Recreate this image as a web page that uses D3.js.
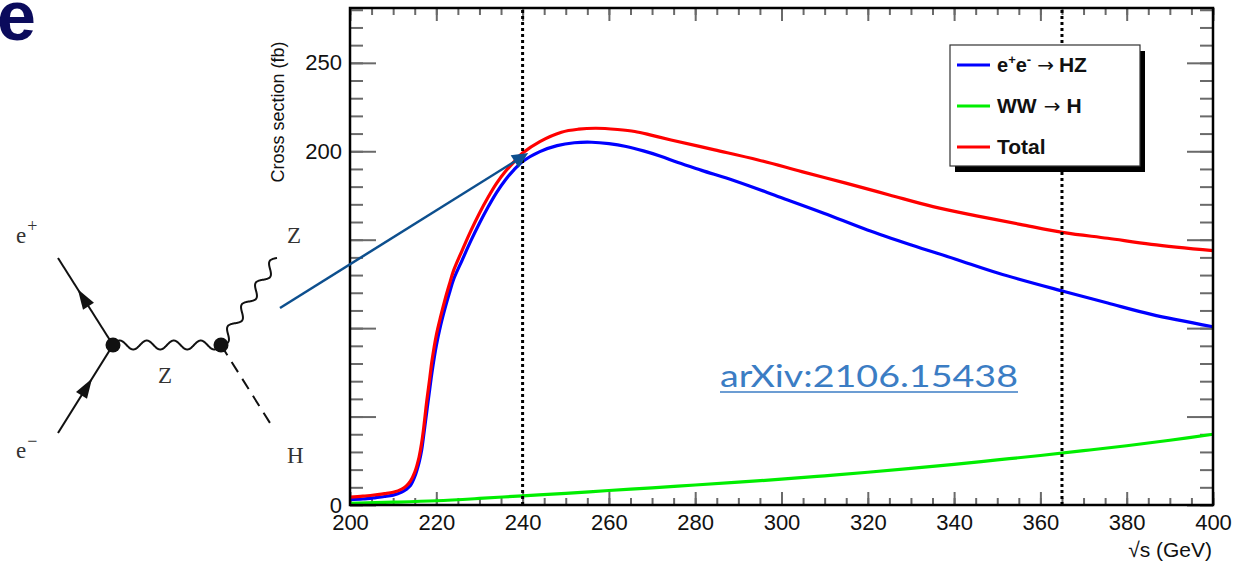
<!DOCTYPE html>
<html>
<head>
<meta charset="utf-8">
<script src="https://cdn.jsdelivr.net/npm/d3@7"></script>
<style>
  body { margin: 0; background: #fff; }
  text { font-family: "Liberation Sans", Arial, Helvetica, sans-serif; }
</style>
</head>
<body>
<div id="chart"></div>
<script>
// values (sqrt(s) in GeV, cross section in fb)
var hzEnergy = [200,203,206,208,210,212,213,214,215,216,216.6,217,217.8,218.5,219,220,221,222,223,224,226,228,230,232,234,236,238,240,244,248,252,256,260,264,268,272,276,281.5,289.6,299.7,309.8,319.9,330.1,340.2,350.3,365.5,375.6,385.7,400];
var hzXsec = [3.0,3.4,4.2,4.8,5.6,7.3,8.8,11,16,24,31,38,53,66,75,90,101.5,111,119.5,127.5,138.5,149.3,159.3,168.5,176.8,183.8,189.5,194.2,199.8,203.2,204.8,205.1,204.3,202.7,200.2,197.2,193.6,189.2,182.9,174,165,155.5,147,139.1,131,120.7,114.2,107.8,100.8];

var wwEnergy = [200,210,220,230,240,250,260,270,280,290,300,310,320,330,340,350,360,370,380,390,400];
var wwXsec = [1.0,1.6,2.4,3.7,5.2,6.6,8.2,9.7,11.3,12.9,14.6,16.5,18.5,20.7,23,25.5,28,30.7,33.5,36.6,40];

var totalEnergy = [200,203,206,208,210,212,213,214,215,216,216.6,217,217.8,218.5,219,220,221,222,223,224,226,228,230,232,234,236,238,240,244,249,253,257,262,266,270,274.4,284.5,294.6,304.7,314.9,325,335.1,345.2,355.3,365.5,375.6,385.7,400];
var totalXsec = [4.5,5.0,5.8,6.4,7.2,9,10.7,13.5,18.5,27,35,42,59,72,81.5,96,106.5,116,124.5,132.5,144,155,165,174,182,188.5,194,199,205.5,210.8,212.5,213,212.3,211.2,209,206.4,200.8,195.1,188.5,182,175.3,168.7,163.5,158.7,154,150.8,147.4,143.8];

var xMajorTicks = [200,220,240,260,280,300,320,340,360,380,400];
var yMajorTicks = [0,50,100,150,200,250];
var yLabeledTicks = [0,200,250];
var markerEnergies = [240, 365];
var seriesNames = ["HZ", "WW", "Total"];
var seriesColors = ["#0000ff", "#00ee00", "#ff0000"];

var W = 1253, H = 570;
var margin = {top: 8, right: 40, bottom: 65, left: 350},
    width = W - margin.left - margin.right,
    height = H - margin.top - margin.bottom;

var root = d3.select('#chart').append('svg')
  .attr('width', W).attr('height', H);

var svg = root.append('g')
  .attr('transform', 'translate(' + margin.left + ',' + margin.top + ')');

var x = d3.scaleLinear().domain([200, 400]).range([0, width]);
var y = d3.scaleLinear().domain([0, 281]).range([height, 0]);

function tickStyle(g) {
  g.select('.domain').remove();
  g.selectAll('line').attr('stroke', '#6a6a6a').attr('stroke-width', 2);
  g.selectAll('text').style('font-size', '22px').attr('fill', '#111');
}

var xMinor = d3.range(200, 400.1, 5);
var yMinor = d3.range(0, 281, 10);

// bottom axis
svg.append('g').attr('transform', 'translate(0,' + height + ')')
  .call(d3.axisBottom(x).tickValues(xMinor).tickSize(-7).tickFormat(''))
  .call(tickStyle);
svg.append('g').attr('transform', 'translate(0,' + height + ')')
  .call(d3.axisBottom(x).tickValues(xMajorTicks).tickSize(-13).tickPadding(9).tickFormat(d3.format('d')))
  .call(tickStyle);
// top axis
svg.append('g')
  .call(d3.axisTop(x).tickValues(xMinor).tickSize(-7).tickFormat(''))
  .call(tickStyle);
svg.append('g')
  .call(d3.axisTop(x).tickValues(xMajorTicks).tickSize(-13).tickFormat(''))
  .call(tickStyle);
// left axis
svg.append('g')
  .call(d3.axisLeft(y).tickValues(yMinor).tickSize(-13).tickFormat(''))
  .call(tickStyle);
svg.append('g')
  .call(d3.axisLeft(y).tickValues(yMajorTicks).tickSize(-26).tickPadding(8)
    .tickFormat(function(d) { return yLabeledTicks.indexOf(d) >= 0 ? d : ''; }))
  .call(tickStyle);
// right axis
svg.append('g').attr('transform', 'translate(' + width + ',0)')
  .call(d3.axisRight(y).tickValues(yMinor).tickSize(-13).tickFormat(''))
  .call(tickStyle);
svg.append('g').attr('transform', 'translate(' + width + ',0)')
  .call(d3.axisRight(y).tickValues(yMajorTicks).tickSize(-26).tickFormat(''))
  .call(tickStyle);

// curves
var line = d3.line()
  .x(function(d) { return x(d[0]); })
  .y(function(d) { return y(d[1]); })
  .curve(d3.curveCatmullRom.alpha(0.5));

var curves = [
  d3.zip(hzEnergy, hzXsec),
  d3.zip(wwEnergy, wwXsec),
  d3.zip(totalEnergy, totalXsec)
];
curves.forEach(function(c, i) {
  svg.append('path')
    .datum(c)
    .attr('d', line)
    .attr('fill', 'none')
    .attr('stroke', seriesColors[i])
    .attr('stroke-width', 3.2)
    .attr('stroke-linejoin', 'round');
});

// dotted energy markers
svg.selectAll('.marker')
  .data(markerEnergies)
  .enter()
  .append('line')
    .attr('x1', function(d) { return x(d); })
    .attr('x2', function(d) { return x(d); })
    .attr('y1', height)
    .attr('y2', 0)
    .attr('stroke', '#000')
    .attr('stroke-width', 3)
    .attr('stroke-dasharray', '3,3');

// frame
svg.append('rect')
  .attr('width', width).attr('height', height)
  .attr('fill', 'none').attr('stroke', '#000').attr('stroke-width', 2.5);

// axis titles
svg.append('text')
  .attr('transform', 'translate(-66,104)rotate(-90)')
  .style('text-anchor', 'middle')
  .style('font-size', '18px')
  .attr('fill', '#111')
  .text('Cross section (fb)');

svg.append('text')
  .attr('x', width - 1)
  .attr('y', height + 52)
  .style('text-anchor', 'end')
  .style('font-size', '21px')
  .attr('fill', '#111')
  .text('\u221As (GeV)');

// legend
var leg = root.append('g').attr('transform', 'translate(950,45)');
leg.append('rect').attr('x', 5).attr('y', 6).attr('width', 190).attr('height', 121).attr('fill', '#000');
leg.append('rect').attr('width', 190).attr('height', 121).attr('fill', '#fff')
  .attr('stroke', '#333').attr('stroke-width', 1.2);

var legRows = leg.selectAll('.row')
  .data(seriesNames)
  .enter()
  .append('g')
    .attr('transform', function(d, i) { return 'translate(0,' + (20 + i * 41) + ')'; });
legRows.append('line')
  .attr('x1', 7).attr('x2', 40)
  .attr('stroke', function(d, i) { return seriesColors[i]; })
  .attr('stroke-width', 3);

var arrowFont = '"DejaVu Sans", sans-serif';
var t0 = leg.append('text').attr('x', 47).attr('y', 27)
  .style('font-size', '20px').style('font-weight', 'bold').attr('fill', '#111');
t0.append('tspan').text('e');
t0.append('tspan').attr('dy', -8).style('font-size', '13px').text('+');
t0.append('tspan').attr('dy', 8).text('e');
t0.append('tspan').attr('dy', -8).style('font-size', '13px').text('-');
t0.append('tspan').attr('dy', 8).attr('dx', 6).style('font-weight', 'normal')
  .style('font-family', arrowFont).style('font-size', '20px').text('\u2192');
t0.append('tspan').attr('dx', 5).style('font-size', '21px').text('HZ');

var t1 = leg.append('text').attr('x', 47).attr('y', 68)
  .style('font-size', '20px').style('font-weight', 'bold').attr('fill', '#111');
t1.append('tspan').style('font-size', '21px').text('WW');
t1.append('tspan').attr('dx', 7).style('font-weight', 'normal')
  .style('font-family', arrowFont).style('font-size', '20px').text('\u2192');
t1.append('tspan').attr('dx', 6).style('font-size', '21px').text('H');

leg.append('text').attr('x', 47).attr('y', 109)
  .style('font-size', '21px').style('font-weight', 'bold').attr('fill', '#111')
  .text('Total');

// big panel letter
root.append('text')
  .attr('x', -3).attr('y', 40)
  .style('font-size', '70px').style('font-weight', 'bold')
  .attr('fill', '#0b0b5c')
  .text('e');

// Feynman diagram
var fey = root.append('g');
var A = [113, 345], B = [221, 345];

function wavy(p0, p1, periods, amp) {
  var dx = p1[0] - p0[0], dy = p1[1] - p0[1];
  var L = Math.hypot(dx, dy), px = -dy / L, py = dx / L;
  var pts = [];
  for (var i = 0; i <= 240; i++) {
    var t = i / 240, s = amp * Math.sin(2 * Math.PI * periods * t);
    pts.push([p0[0] + dx * t + px * s, p0[1] + dy * t + py * s]);
  }
  return d3.line().curve(d3.curveBasis)(pts);
}
function arrowHead(from, to, frac, len, half) {
  var dx = to[0] - from[0], dy = to[1] - from[1], L = Math.hypot(dx, dy);
  var ux = dx / L, uy = dy / L;
  var tip = [from[0] + dx * frac, from[1] + dy * frac];
  var b = [tip[0] - ux * len, tip[1] - uy * len];
  return [tip, [b[0] - uy * half, b[1] + ux * half], [b[0] + uy * half, b[1] - ux * half]];
}

var ePlus = [58, 258], eMinus = [58, 433], zOut = [277, 258], hOut = [270, 423];
fey.append('line').attr('x1', ePlus[0]).attr('y1', ePlus[1]).attr('x2', A[0]).attr('y2', A[1])
  .attr('stroke', '#111').attr('stroke-width', 2);
fey.append('line').attr('x1', eMinus[0]).attr('y1', eMinus[1]).attr('x2', A[0]).attr('y2', A[1])
  .attr('stroke', '#111').attr('stroke-width', 2);
fey.append('polygon').attr('points', arrowHead(A, ePlus, 0.64, 20, 6.5).join(' ')).attr('fill', '#111');
fey.append('polygon').attr('points', arrowHead(eMinus, A, 0.62, 20, 6.5).join(' ')).attr('fill', '#111');
fey.append('path').attr('d', wavy(A, B, 4, -4.5)).attr('fill', 'none').attr('stroke', '#111').attr('stroke-width', 2);
fey.append('path').attr('d', wavy(B, zOut, 4, 4.5)).attr('fill', 'none').attr('stroke', '#111').attr('stroke-width', 2);
fey.append('line').attr('x1', B[0]).attr('y1', B[1]).attr('x2', hOut[0]).attr('y2', hOut[1])
  .attr('stroke', '#111').attr('stroke-width', 2).attr('stroke-dasharray', '12,8');
fey.selectAll('circle').data([A, B]).enter().append('circle')
  .attr('cx', function(d) { return d[0]; }).attr('cy', function(d) { return d[1]; })
  .attr('r', 7.5).attr('fill', '#111');

var serif = '"Liberation Serif", "DejaVu Serif", serif';
function label(xp, yp, main, sup) {
  var t = fey.append('text').attr('x', xp).attr('y', yp)
    .style('font-family', serif).style('font-size', '23px').attr('fill', '#333');
  t.append('tspan').text(main);
  if (sup) t.append('tspan').attr('dx', 1).attr('dy', -11).style('font-size', '18px').text(sup);
}
label(16, 243, 'e', '+');
label(16, 458, 'e', '\u2212');
label(158, 383, 'Z');
label(287, 243, 'Z');
label(287, 463, 'H');

// pointer arrow to the 240 GeV point
var aStart = [280, 308], aTip = [x(241.3) + margin.left, y(199) + margin.top];
var head = arrowHead(aStart, aTip, 1, 16, 7.5);
var aLen = Math.hypot(aTip[0] - aStart[0], aTip[1] - aStart[1]);
var base = [aTip[0] - (aTip[0] - aStart[0]) / aLen * 14,
            aTip[1] - (aTip[1] - aStart[1]) / aLen * 14];
root.append('line').attr('x1', aStart[0]).attr('y1', aStart[1]).attr('x2', base[0]).attr('y2', base[1])
  .attr('stroke', '#0d4f8e').attr('stroke-width', 2.5);
root.append('polygon').attr('points', head.join(' ')).attr('fill', '#0d4f8e');

// reference link
root.append('text')
  .attr('x', 720).attr('y', 387)
  .attr('textLength', 298).attr('lengthAdjust', 'spacingAndGlyphs')
  .style('font-family', 'Lato, "Open Sans", sans-serif')
  .style('font-size', '30px')
  .attr('fill', '#3b7dc4')
  .text('arXiv:2106.15438');
root.append('line').attr('x1', 720).attr('x2', 1018).attr('y1', 392).attr('y2', 392)
  .attr('stroke', '#3b7dc4').attr('stroke-width', 1.6);
</script>
</body>
</html>
